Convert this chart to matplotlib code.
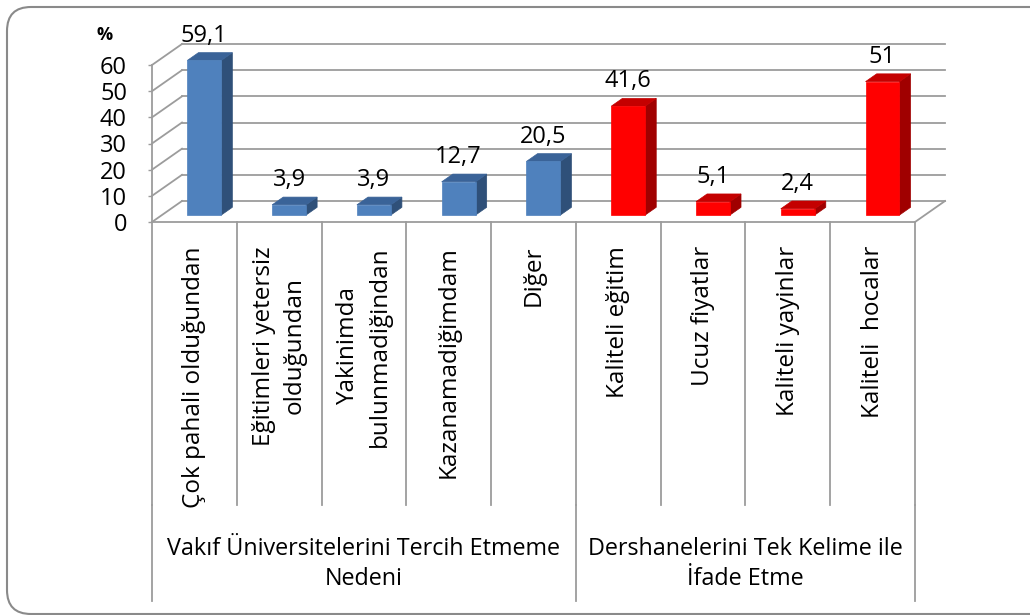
import numpy as np
import matplotlib.pyplot as plt
from matplotlib.patches import Polygon, FancyBboxPatch
from matplotlib.transforms import IdentityTransform

plt.rcParams['font.family'] = ['Open Sans', 'DejaVu Sans']

# data
categories = ['Çok pahali olduğundan',
              'Eğitimleri yetersiz\nolduğundan',
              'Yakinimda\nbulunmadiğindan',
              'Kazanamadiğimdam',
              'Diğer',
              'Kaliteli eğitim',
              'Ucuz fiyatlar',
              'Kaliteli yayinlar',
              'Kaliteli  hocalar']
values = [59.1, 3.9, 3.9, 12.7, 20.5, 41.6, 5.1, 2.4, 51]
groups = ['Vakıf Üniversitelerini Tercih Etmeme\nNedeni',
          'Dershanelerini Tek Kelime ile\nİfade Etme']
group_sizes = [5, 4]
yticks = [0, 10, 20, 30, 40, 50, 60]

# colours: front, top, side
blue = ('#4F81BD', '#3A6398', '#2F5079')
red = ('#FF0000', '#C40000', '#A00000')
grid_col = '#9C9C9C'

W, H = 1030, 615
fig = plt.figure(figsize=(W / 100, H / 100), dpi=100)

# front plane of the 3d box (pixels of the picture)
left, right, y0, y60 = 152, 915, 222, 65
ax = fig.add_axes([left / W, 1 - y0 / H, (right - left) / W, (y0 - y60) / H])
n = len(categories)
ax.set_xlim(-0.5, n - 0.5)
ax.set_ylim(0, 60)
ax.patch.set_visible(False)

px_x = (right - left) / n      # pixels per category
px_y = (y0 - y60) / 60.0       # pixels per value unit
DX = 30 / px_x                 # depth of the box in data units
DY = 21 / px_y

# back wall, left wall
for v in yticks:
    ax.plot([-0.5 + DX, n - 0.5 + DX], [v + DY, v + DY], color=grid_col, lw=1.3, clip_on=False, zorder=1)
    ax.plot([-0.5, -0.5 + DX], [v, v + DY], color=grid_col, lw=1.3, clip_on=False, zorder=1)
# right edge of the floor
ax.plot([n - 0.5, n - 0.5 + DX], [0, DY], color=grid_col, lw=1.3, clip_on=False, zorder=1)

for s in ['top', 'right']:
    ax.spines[s].set_visible(False)
for s in ['left', 'bottom']:
    ax.spines[s].set_color(grid_col)
    ax.spines[s].set_linewidth(1.3)

ax.set_yticks(yticks)
ax.set_xticks([])
ax.tick_params(axis='y', length=3, width=1, color=grid_col, pad=15, labelsize=17)

# bars as boxes
f0, f1 = 0.33, 0.70
bw = 0.20
colors = [blue] * group_sizes[0] + [red] * group_sizes[1]
for i, (v, c) in enumerate(zip(values, colors)):
    xa, xb = i - bw, i + bw
    front = [(xa + f0 * DX, f0 * DY), (xb + f0 * DX, f0 * DY),
             (xb + f0 * DX, v + f0 * DY), (xa + f0 * DX, v + f0 * DY)]
    side = [(xb + f0 * DX, f0 * DY), (xb + f1 * DX, f1 * DY),
            (xb + f1 * DX, v + f1 * DY), (xb + f0 * DX, v + f0 * DY)]
    top = [(xa + f0 * DX, v + f0 * DY), (xb + f0 * DX, v + f0 * DY),
           (xb + f1 * DX, v + f1 * DY), (xa + f1 * DX, v + f1 * DY)]
    for pts, col in [(side, c[2]), (top, c[1]), (front, c[0])]:
        ax.add_patch(Polygon(pts, closed=True, facecolor=col, edgecolor=col, lw=0.5,
                             clip_on=False, zorder=3))
    ax.annotate(f'{v:g}'.replace('.', ','), xy=(i + f0 * DX, v + f0 * DY),
                xytext=(0, 13.5), textcoords='offset points',
                ha='center', va='baseline', fontsize=17, annotation_clip=False, zorder=4)

ax.text((105 - left) / (right - left), (y0 - 35) / (y0 - y60), '%', transform=ax.transAxes,
        ha='center', va='center', fontsize=13, fontweight='bold')

# category table below the floor
trans = ax.get_xaxis_transform()
cat_bottom = -(505 - y0) / (y0 - y60)
grp_bottom = -(601 - y0) / (y0 - y60)
for k in range(n + 1):
    ax.plot([k - 0.5, k - 0.5], [0, cat_bottom], color=grid_col, lw=1.3, transform=trans, clip_on=False)
edges = np.concatenate([[0], np.cumsum(group_sizes)]) - 0.5
for e in edges:
    ax.plot([e, e], [cat_bottom, grp_bottom], color=grid_col, lw=1.3, transform=trans, clip_on=False)

for i, lab in enumerate(categories):
    ax.text(i, -(246 - y0) / (y0 - y60), lab, transform=trans, rotation=90,
            ha='center', va='top', multialignment='center', fontsize=17.5, linespacing=1.4)

for g, lab in enumerate(groups):
    ax.text((edges[g] + edges[g + 1]) / 2, -(564 - y0) / (y0 - y60), lab, transform=trans,
            ha='center', va='center', multialignment='center', fontsize=16.8, linespacing=1.35)

# rounded frame, right and bottom side run off the picture
frame = FancyBboxPatch((7, 1), 1060, H - 8, boxstyle='round,pad=0,rounding_size=24',
                       transform=IdentityTransform(), facecolor='none', edgecolor='#8A8A8A', lw=1.5)
fig.add_artist(frame)

plt.savefig('out.png', dpi=100)
